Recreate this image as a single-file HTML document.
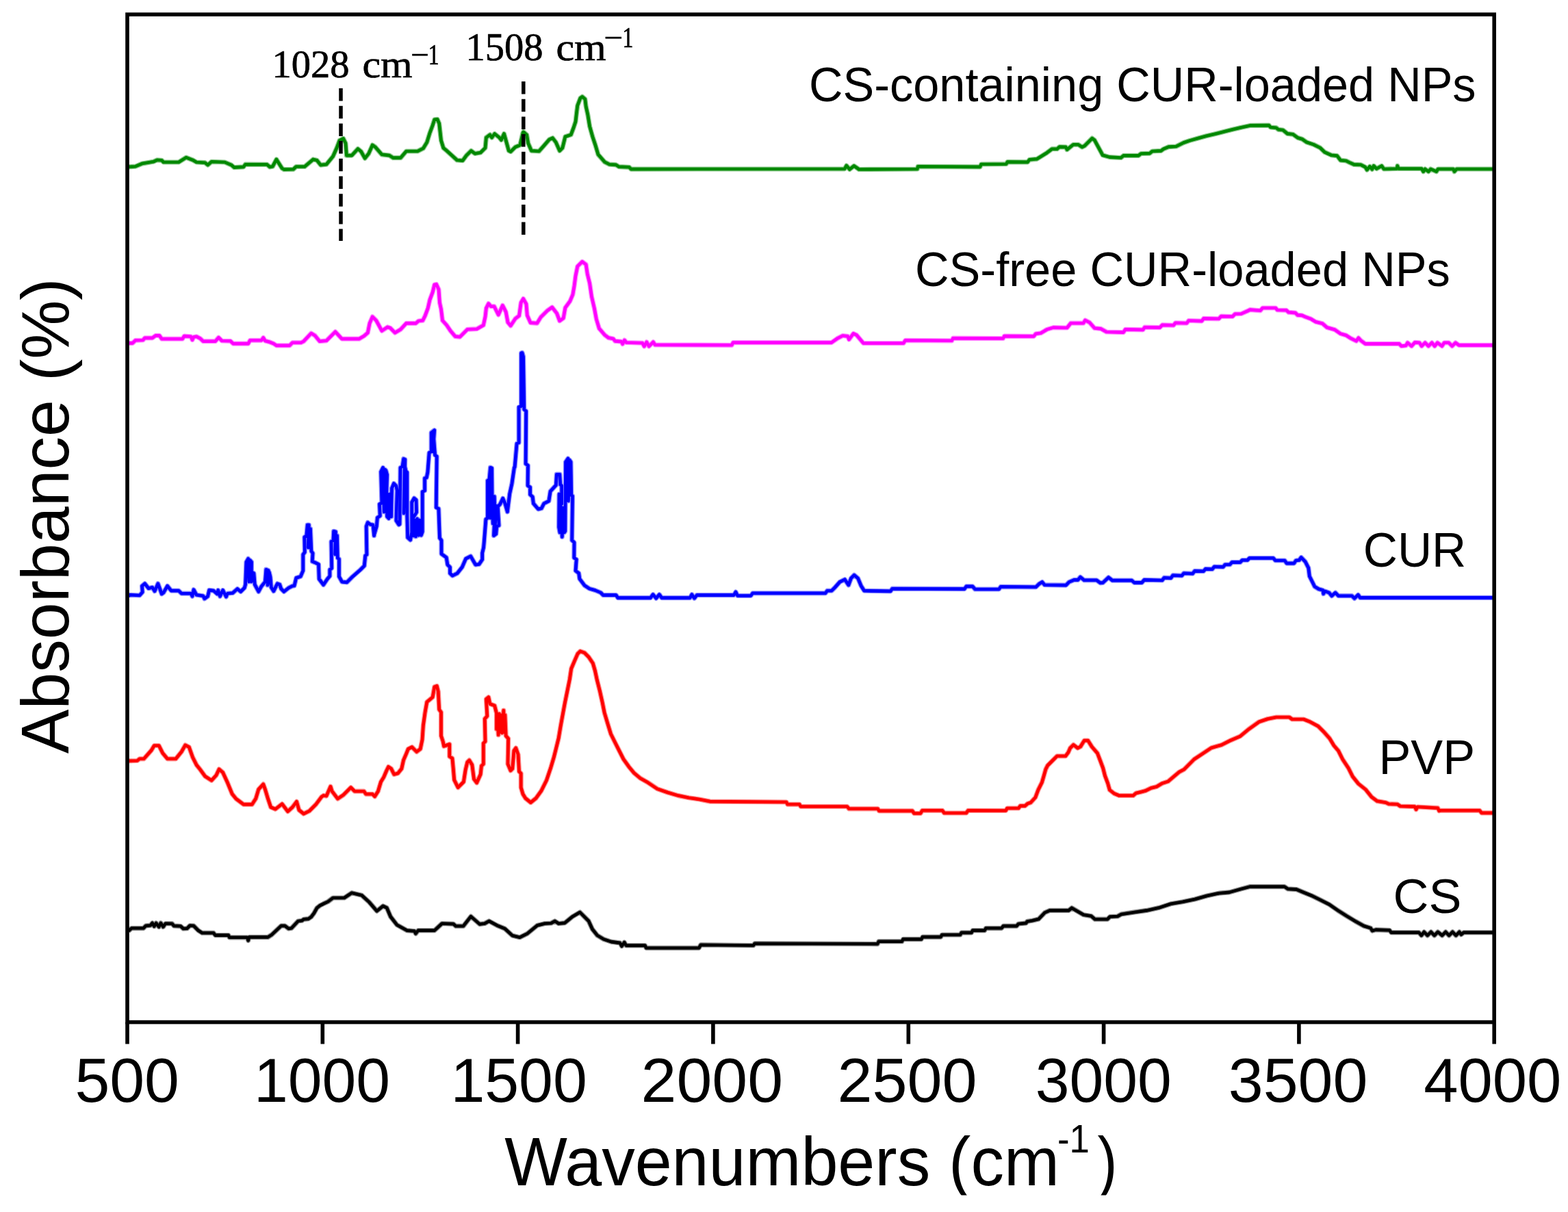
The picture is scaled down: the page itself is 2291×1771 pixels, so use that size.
<!DOCTYPE html>
<html><head><meta charset="utf-8"><title>FTIR spectra</title>
<style>html,body{margin:0;padding:0;background:#fff;}body{width:2291px;height:1771px;overflow:hidden;}svg{display:block;}</style>
</head><body>
<svg width="2291" height="1771" viewBox="0 0 2291 1771"><rect x="0" y="0" width="2291" height="1771" fill="#fff"/><path d="M188.2 243.9L197.9 243.2L207.5 239.1L224.0 236.3L229.5 233.8L236.3 234.3L239.0 237.0L261.0 237.0L272.0 230.1L281.6 233.8L287.1 237.0L299.5 237.7L303.6 241.1L309.1 236.3L328.4 237.0L338.0 241.1L342.0 244.6L355.8 243.9L358.6 240.2L390.2 240.4L394.3 243.9L398.4 243.2L403.9 232.9L412.1 245.9L414.9 247.6L428.6 247.3L432.7 243.5L445.1 243.5L457.5 232.9L463.0 234.3L468.5 241.1L476.9 240.2L486.5 228.5L492.0 216.2L496.1 205.2L501.6 202.4L505.0 209.3L506.4 227.1L514.0 227.1L522.9 217.5L527.7 221.6L533.2 231.3L538.7 224.4L544.2 212.0L548.3 214.8L557.9 225.8L568.9 227.1L574.4 230.6L585.4 230.6L593.6 221.0L610.1 221.0L618.4 216.8L623.8 207.9L628.0 194.2L632.1 183.2L634.8 174.9L639.0 174.3L641.7 180.4L643.1 192.8L644.5 205.2L647.9 216.2L652.7 220.3L667.8 234.0L676.0 234.7L681.5 227.1L688.4 220.3L693.9 224.4L702.1 223.0L709.0 216.2L710.4 201.0L715.9 196.9L718.6 201.0L722.7 195.5L729.6 201.0L732.4 204.5L736.5 195.5L739.2 205.2L743.4 220.3L746.1 221.6L753.0 214.8L759.8 212.0L764.0 194.2L764.8 192.8L769.6 196.9L771.7 209.3L776.5 220.3L787.5 221.0L794.3 213.4L802.6 203.8L807.4 201.7L812.2 207.9L817.7 220.3L821.8 216.2L825.9 199.7L834.2 196.9L838.3 185.9L841.0 177.7L842.4 165.3L843.8 154.3L847.9 143.4L850.7 141.3L854.8 144.7L856.2 155.7L858.9 168.1L861.6 184.6L865.8 199.7L869.9 212.0L874.0 225.8L883.6 236.8L890.5 240.2L900.1 240.9L904.2 243.6L919.3 244.3L922.1 247.1L1234.0 246.8L1236.8 242.0L1241.4 247.5L1247.8 242.4L1255.1 247.5L1340.3 247.0L1341.2 243.3L1431.9 243.9L1433.7 240.0L1470.2 239.7L1472.0 236.6L1501.4 236.9L1504.1 233.3L1515.1 232.3L1522.4 227.8L1529.7 223.2L1537.1 217.7L1544.4 217.7L1548.1 214.6L1557.2 214.9L1559.0 218.6L1568.2 211.3L1575.5 211.3L1581.0 214.9L1584.7 213.1L1595.7 202.1L1599.3 204.9L1611.2 226.8L1621.3 229.6L1637.8 230.5L1641.5 227.4L1663.4 227.4L1667.1 224.5L1679.9 224.1L1683.6 221.0L1696.4 220.4L1700.1 217.7L1707.4 214.6L1718.4 214.0L1729.4 208.5L1738.5 205.4L1751.4 201.8L1762.3 198.8L1775.2 195.7L1788.0 192.6L1800.8 189.3L1813.6 186.2L1826.5 183.4L1853.9 183.1L1856.4 186.0L1864.6 186.7L1867.9 189.3L1874.5 190.0L1881.1 195.4L1889.3 196.3L1895.9 201.2L1902.5 203.2L1909.1 207.8L1919.0 211.1L1928.9 216.0L1935.5 222.3L1945.4 226.8L1953.6 227.6L1958.6 234.2L1966.8 235.0L1971.8 237.5L1978.3 240.4L1988.2 240.8L1994.8 244.1L1997.3 248.2L2001.4 243.2L2004.7 247.4L2007.2 242.4L2011.3 246.5L2018.7 242.4L2022.0 247.0L2041.0 246.5L2041.8 242.4L2043.4 246.5L2077.2 246.5L2079.7 250.7L2082.2 247.0L2087.1 250.7L2090.4 247.0L2098.7 250.7L2101.1 247.0L2123.4 247.0L2125.0 250.7L2128.3 247.0L2182.0 247.0" fill="none" stroke="#008800" stroke-opacity="0.45" stroke-width="7.2" stroke-linejoin="round" stroke-linecap="butt"/><path d="M188.2 243.9L197.9 243.2L207.5 239.1L224.0 236.3L229.5 233.8L236.3 234.3L239.0 237.0L261.0 237.0L272.0 230.1L281.6 233.8L287.1 237.0L299.5 237.7L303.6 241.1L309.1 236.3L328.4 237.0L338.0 241.1L342.0 244.6L355.8 243.9L358.6 240.2L390.2 240.4L394.3 243.9L398.4 243.2L403.9 232.9L412.1 245.9L414.9 247.6L428.6 247.3L432.7 243.5L445.1 243.5L457.5 232.9L463.0 234.3L468.5 241.1L476.9 240.2L486.5 228.5L492.0 216.2L496.1 205.2L501.6 202.4L505.0 209.3L506.4 227.1L514.0 227.1L522.9 217.5L527.7 221.6L533.2 231.3L538.7 224.4L544.2 212.0L548.3 214.8L557.9 225.8L568.9 227.1L574.4 230.6L585.4 230.6L593.6 221.0L610.1 221.0L618.4 216.8L623.8 207.9L628.0 194.2L632.1 183.2L634.8 174.9L639.0 174.3L641.7 180.4L643.1 192.8L644.5 205.2L647.9 216.2L652.7 220.3L667.8 234.0L676.0 234.7L681.5 227.1L688.4 220.3L693.9 224.4L702.1 223.0L709.0 216.2L710.4 201.0L715.9 196.9L718.6 201.0L722.7 195.5L729.6 201.0L732.4 204.5L736.5 195.5L739.2 205.2L743.4 220.3L746.1 221.6L753.0 214.8L759.8 212.0L764.0 194.2L764.8 192.8L769.6 196.9L771.7 209.3L776.5 220.3L787.5 221.0L794.3 213.4L802.6 203.8L807.4 201.7L812.2 207.9L817.7 220.3L821.8 216.2L825.9 199.7L834.2 196.9L838.3 185.9L841.0 177.7L842.4 165.3L843.8 154.3L847.9 143.4L850.7 141.3L854.8 144.7L856.2 155.7L858.9 168.1L861.6 184.6L865.8 199.7L869.9 212.0L874.0 225.8L883.6 236.8L890.5 240.2L900.1 240.9L904.2 243.6L919.3 244.3L922.1 247.1L1234.0 246.8L1236.8 242.0L1241.4 247.5L1247.8 242.4L1255.1 247.5L1340.3 247.0L1341.2 243.3L1431.9 243.9L1433.7 240.0L1470.2 239.7L1472.0 236.6L1501.4 236.9L1504.1 233.3L1515.1 232.3L1522.4 227.8L1529.7 223.2L1537.1 217.7L1544.4 217.7L1548.1 214.6L1557.2 214.9L1559.0 218.6L1568.2 211.3L1575.5 211.3L1581.0 214.9L1584.7 213.1L1595.7 202.1L1599.3 204.9L1611.2 226.8L1621.3 229.6L1637.8 230.5L1641.5 227.4L1663.4 227.4L1667.1 224.5L1679.9 224.1L1683.6 221.0L1696.4 220.4L1700.1 217.7L1707.4 214.6L1718.4 214.0L1729.4 208.5L1738.5 205.4L1751.4 201.8L1762.3 198.8L1775.2 195.7L1788.0 192.6L1800.8 189.3L1813.6 186.2L1826.5 183.4L1853.9 183.1L1856.4 186.0L1864.6 186.7L1867.9 189.3L1874.5 190.0L1881.1 195.4L1889.3 196.3L1895.9 201.2L1902.5 203.2L1909.1 207.8L1919.0 211.1L1928.9 216.0L1935.5 222.3L1945.4 226.8L1953.6 227.6L1958.6 234.2L1966.8 235.0L1971.8 237.5L1978.3 240.4L1988.2 240.8L1994.8 244.1L1997.3 248.2L2001.4 243.2L2004.7 247.4L2007.2 242.4L2011.3 246.5L2018.7 242.4L2022.0 247.0L2041.0 246.5L2041.8 242.4L2043.4 246.5L2077.2 246.5L2079.7 250.7L2082.2 247.0L2087.1 250.7L2090.4 247.0L2098.7 250.7L2101.1 247.0L2123.4 247.0L2125.0 250.7L2128.3 247.0L2182.0 247.0" fill="none" stroke="#008800" stroke-width="4.6" stroke-linejoin="round" stroke-linecap="butt"/><path d="M187.6 501.4L193.7 501.4L197.9 497.3L208.8 497.0L211.6 493.9L222.6 493.9L227.4 490.4L232.9 490.4L236.3 495.2L266.5 495.2L269.3 491.1L278.9 491.8L281.0 496.6L283.0 492.5L287.1 491.8L292.6 494.6L296.8 498.7L314.6 498.7L319.4 493.2L324.2 498.0L336.6 498.3L340.7 502.1L362.7 502.1L365.4 497.3L381.9 497.3L384.7 493.5L387.4 498.0L392.9 499.4L399.8 502.1L403.9 504.9L423.1 504.9L427.3 500.7L439.6 500.7L443.7 498.7L454.7 487.0L460.2 490.4L467.1 498.7L476.9 497.8L489.9 484.8L499.5 495.1L524.9 495.1L531.8 491.0L537.3 486.2L540.1 472.4L544.2 462.8L549.7 468.3L557.9 483.4L566.2 477.9L570.3 479.3L577.1 486.2L585.4 481.3L593.6 472.4L607.4 472.4L611.5 469.0L617.7 468.3L621.1 461.4L625.2 450.4L628.0 438.1L632.1 427.1L634.8 416.1L637.6 415.4L641.0 423.0L642.4 442.2L644.5 451.8L646.5 468.3L652.7 475.2L658.2 483.4L665.1 491.6L671.9 492.3L682.9 481.3L696.6 480.7L706.3 475.2L709.0 462.8L710.4 450.4L713.8 443.6L717.3 447.7L722.1 447.7L728.2 460.0L734.4 446.3L739.2 455.9L742.0 471.0L746.1 475.9L753.0 465.5L758.5 461.4L761.2 442.2L764.6 436.5L768.9 444.2L770.3 460.7L775.1 471.6L784.7 472.3L790.2 463.4L799.8 453.8L806.7 449.0L813.6 457.9L817.7 468.9L823.2 464.8L825.9 449.7L832.8 440.1L836.9 430.4L839.0 418.1L841.0 403.0L843.8 389.2L850.7 382.4L856.2 386.5L858.2 400.2L861.6 414.0L864.4 433.2L868.5 451.0L871.3 466.2L875.4 479.9L883.6 489.5L889.1 493.6L896.0 495.0L898.7 498.4L907.7 499.1L909.7 502.6L912.5 497.1L915.2 500.5L938.6 501.2L941.3 506.0L944.8 499.8L948.2 506.0L954.4 499.8L957.1 503.9L1069.2 504.3L1071.1 500.6L1214.8 500.6L1224.0 494.2L1231.3 490.5L1238.6 491.4L1240.5 496.0L1246.9 487.4L1251.5 489.6L1261.5 501.5L1320.1 501.5L1322.9 497.3L1390.7 497.8L1392.5 494.2L1465.6 494.5L1467.5 491.1L1510.5 491.4L1513.3 487.8L1520.6 486.8L1529.7 481.4L1538.9 478.6L1559.0 479.0L1564.5 472.2L1582.9 472.2L1585.6 468.0L1592.0 471.3L1599.3 479.5L1608.5 480.4L1616.7 485.0L1641.5 485.6L1644.2 481.4L1669.9 481.9L1672.6 478.2L1694.6 478.6L1698.2 474.9L1714.7 475.3L1717.5 471.8L1734.0 472.2L1736.7 468.5L1755.9 469.1L1758.7 465.4L1780.7 465.8L1784.3 462.1L1800.8 462.5L1804.5 458.8L1813.6 458.5L1822.8 454.4L1826.5 452.6L1841.5 453.8L1844.8 450.0L1863.8 450.0L1866.3 453.0L1879.4 453.3L1882.7 456.3L1892.6 457.1L1895.9 460.4L1902.5 460.9L1907.5 463.2L1915.7 466.2L1922.3 470.3L1932.2 472.7L1938.8 478.5L1950.3 481.8L1958.6 487.6L1966.8 490.0L1973.4 494.2L1981.6 498.3L1984.9 493.8L1988.2 497.5L1994.8 502.4L2044.3 502.4L2047.6 505.7L2054.2 504.9L2056.6 500.8L2062.4 505.7L2067.3 500.4L2073.9 500.8L2077.2 505.7L2082.2 500.8L2087.1 505.7L2092.1 500.8L2096.2 505.7L2100.3 500.8L2106.9 505.7L2110.2 500.8L2116.8 500.8L2121.7 505.7L2126.7 500.8L2131.6 504.4L2182.0 504.4" fill="none" stroke="#ff00ff" stroke-opacity="0.45" stroke-width="7.2" stroke-linejoin="round" stroke-linecap="butt"/><path d="M187.6 501.4L193.7 501.4L197.9 497.3L208.8 497.0L211.6 493.9L222.6 493.9L227.4 490.4L232.9 490.4L236.3 495.2L266.5 495.2L269.3 491.1L278.9 491.8L281.0 496.6L283.0 492.5L287.1 491.8L292.6 494.6L296.8 498.7L314.6 498.7L319.4 493.2L324.2 498.0L336.6 498.3L340.7 502.1L362.7 502.1L365.4 497.3L381.9 497.3L384.7 493.5L387.4 498.0L392.9 499.4L399.8 502.1L403.9 504.9L423.1 504.9L427.3 500.7L439.6 500.7L443.7 498.7L454.7 487.0L460.2 490.4L467.1 498.7L476.9 497.8L489.9 484.8L499.5 495.1L524.9 495.1L531.8 491.0L537.3 486.2L540.1 472.4L544.2 462.8L549.7 468.3L557.9 483.4L566.2 477.9L570.3 479.3L577.1 486.2L585.4 481.3L593.6 472.4L607.4 472.4L611.5 469.0L617.7 468.3L621.1 461.4L625.2 450.4L628.0 438.1L632.1 427.1L634.8 416.1L637.6 415.4L641.0 423.0L642.4 442.2L644.5 451.8L646.5 468.3L652.7 475.2L658.2 483.4L665.1 491.6L671.9 492.3L682.9 481.3L696.6 480.7L706.3 475.2L709.0 462.8L710.4 450.4L713.8 443.6L717.3 447.7L722.1 447.7L728.2 460.0L734.4 446.3L739.2 455.9L742.0 471.0L746.1 475.9L753.0 465.5L758.5 461.4L761.2 442.2L764.6 436.5L768.9 444.2L770.3 460.7L775.1 471.6L784.7 472.3L790.2 463.4L799.8 453.8L806.7 449.0L813.6 457.9L817.7 468.9L823.2 464.8L825.9 449.7L832.8 440.1L836.9 430.4L839.0 418.1L841.0 403.0L843.8 389.2L850.7 382.4L856.2 386.5L858.2 400.2L861.6 414.0L864.4 433.2L868.5 451.0L871.3 466.2L875.4 479.9L883.6 489.5L889.1 493.6L896.0 495.0L898.7 498.4L907.7 499.1L909.7 502.6L912.5 497.1L915.2 500.5L938.6 501.2L941.3 506.0L944.8 499.8L948.2 506.0L954.4 499.8L957.1 503.9L1069.2 504.3L1071.1 500.6L1214.8 500.6L1224.0 494.2L1231.3 490.5L1238.6 491.4L1240.5 496.0L1246.9 487.4L1251.5 489.6L1261.5 501.5L1320.1 501.5L1322.9 497.3L1390.7 497.8L1392.5 494.2L1465.6 494.5L1467.5 491.1L1510.5 491.4L1513.3 487.8L1520.6 486.8L1529.7 481.4L1538.9 478.6L1559.0 479.0L1564.5 472.2L1582.9 472.2L1585.6 468.0L1592.0 471.3L1599.3 479.5L1608.5 480.4L1616.7 485.0L1641.5 485.6L1644.2 481.4L1669.9 481.9L1672.6 478.2L1694.6 478.6L1698.2 474.9L1714.7 475.3L1717.5 471.8L1734.0 472.2L1736.7 468.5L1755.9 469.1L1758.7 465.4L1780.7 465.8L1784.3 462.1L1800.8 462.5L1804.5 458.8L1813.6 458.5L1822.8 454.4L1826.5 452.6L1841.5 453.8L1844.8 450.0L1863.8 450.0L1866.3 453.0L1879.4 453.3L1882.7 456.3L1892.6 457.1L1895.9 460.4L1902.5 460.9L1907.5 463.2L1915.7 466.2L1922.3 470.3L1932.2 472.7L1938.8 478.5L1950.3 481.8L1958.6 487.6L1966.8 490.0L1973.4 494.2L1981.6 498.3L1984.9 493.8L1988.2 497.5L1994.8 502.4L2044.3 502.4L2047.6 505.7L2054.2 504.9L2056.6 500.8L2062.4 505.7L2067.3 500.4L2073.9 500.8L2077.2 505.7L2082.2 500.8L2087.1 505.7L2092.1 500.8L2096.2 505.7L2100.3 500.8L2106.9 505.7L2110.2 500.8L2116.8 500.8L2121.7 505.7L2126.7 500.8L2131.6 504.4L2182.0 504.4" fill="none" stroke="#ff00ff" stroke-width="4.6" stroke-linejoin="round" stroke-linecap="butt"/><path d="M187.6 871.3L189.6 869.3L204.0 870.0L208.2 865.2L207.5 856.2L211.6 852.8L217.1 859.7L222.6 858.3L226.0 863.8L230.8 852.8L236.3 867.9L239.0 865.9L244.6 856.2L250.1 863.1L261.0 863.1L265.2 867.2L278.9 867.2L281.0 871.3L283.0 861.7L287.1 869.3L296.8 870.7L298.8 874.8L303.6 871.3L305.7 862.4L311.9 863.1L317.4 867.9L318.7 862.4L321.5 871.3L325.6 862.4L330.4 872.0L332.5 867.2L340.0 866.5L346.9 860.4L351.7 864.5L357.2 859.0L358.6 854.2L359.9 821.2L362.7 816.4L363.8 850.0L365.2 818.5L367.5 821.2L367.3 850.0L368.4 836.3L370.9 837.7L372.3 854.2L377.8 864.5L381.9 856.9L387.4 850.1L388.8 832.2L392.2 833.6L391.0 855.0L393.3 836.0L395.0 843.2L396.3 858.3L399.8 863.8L405.3 852.8L408.7 854.2L410.8 860.4L414.9 864.5L421.8 859.0L427.3 856.2L430.0 855.9L432.8 844.5L439.2 842.4L442.8 833.9L442.8 810.4L445.3 806.9L444.9 784.8L447.8 782.7L449.2 767.1L451.3 767.1L450.2 800.0L452.0 800.0L453.5 772.7L454.9 805.4L457.0 808.3L456.3 820.4L459.9 821.8L465.5 824.6L466.2 846.0L472.6 854.5L478.3 846.0L481.9 841.7L481.9 832.4L484.7 830.3L484.0 791.2L486.9 789.8L487.6 776.3L490.4 777.0L489.5 810.0L491.0 810.0L492.5 782.7L493.3 815.4L495.4 816.8L495.4 842.4L499.7 850.2L506.8 850.9L515.3 842.4L526.7 832.4L532.3 826.8L533.8 811.8L535.9 810.4L535.2 769.2L537.3 763.5L540.9 766.3L545.1 767.1L546.6 782.7L546.7 781.3L550.2 769.3L551.4 756.4L555.3 753.8L554.5 736.6L557.9 734.9L556.6 689.4L559.6 683.4L561.2 748.0L562.3 686.0L563.9 687.6L565.6 693.7L564.8 720.3L565.6 755.0L568.0 757.5L569.0 722.0L570.5 722.0L571.6 755.0L572.5 713.4L575.5 706.5L578.9 710.0L580.2 716.9L578.9 760.7L582.8 766.7L584.0 766.0L584.5 735.0L585.0 683.4L588.0 681.6L589.7 670.5L591.8 671.3L590.0 750.0L591.2 680.0L593.1 688.5L594.8 690.2L594.8 753.8L595.7 785.6L599.6 789.0L601.7 777.9L601.7 734.0L605.1 728.0L608.1 730.6L608.6 748.6L603.5 757.0L604.5 783.0L606.5 760.0L607.5 784.0L609.5 758.0L611.6 782.1L613.0 760.0L615.4 782.1L617.2 777.0L617.2 718.6L620.6 716.9L620.6 698.8L623.2 698.0L624.9 690.0L627.1 661.6L630.2 659.8L630.2 632.2L634.7 628.7L632.5 660.0L633.0 631.0L635.6 665.1L638.2 666.9L637.3 741.6L640.9 743.3L642.4 786.1L645.0 789.7L645.0 809.3L652.2 814.6L653.9 825.2L657.5 828.8L657.5 837.7L661.0 841.2L668.1 837.7L675.2 828.8L680.6 816.4L687.7 812.8L694.8 825.2L700.0 824.5L704.7 817.4L704.7 808.0L706.6 800.0L707.4 791.0L709.9 758.7L712.4 757.0L712.4 702.3L714.9 700.6L716.5 683.2L718.6 684.0L719.0 723.8L714.8 745.0L716.2 703.0L716.6 757.0L719.2 729.0L720.2 765.0L722.3 725.5L723.5 768.0L724.8 739.0L722.5 760.0L721.5 782.7L724.8 780.2L725.7 769.5L729.0 767.8L727.3 740.4L730.5 737.0L734.7 728.2L738.0 736.0L741.4 747.9L744.7 721.4L748.0 706.4L751.4 683.2L752.1 682.5L755.1 648.1L758.1 646.9L758.1 594.8L761.6 593.6L761.6 516.0L763.0 515.5L764.6 521.3L765.8 598.3L768.7 600.7L768.1 677.7L771.4 680.1L771.1 709.6L774.6 712.0L774.6 722.7L778.2 726.2L779.4 735.7L786.5 744.0L791.2 742.8L794.8 735.7L801.9 732.1L804.1 718.0L812.4 708.9L813.3 693.2L817.8 693.2L818.7 708.1L820.7 709.8L820.7 736.3L817.0 722.0L816.6 770.3L818.0 778.0L819.5 740.0L821.3 784.4L823.0 742.0L824.5 778.0L825.8 776.0L826.5 675.0L829.9 670.0L830.5 732.0L832.0 672.0L834.0 675.0L834.8 723.8L836.5 724.7L835.7 789.4L839.0 792.7L838.8 815.1L842.2 817.4L841.0 834.0L845.7 837.6L846.9 845.9L854.0 855.4L861.1 860.1L869.4 862.5L877.7 866.0L881.3 869.6L900.1 869.6L902.8 873.6L950.4 873.6L954.1 868.7L958.7 874.2L963.3 868.7L966.9 873.6L1008.1 873.6L1010.9 868.7L1014.5 874.2L1018.2 869.6L1072.2 869.6L1075.0 865.0L1077.7 870.5L1097.0 870.5L1099.7 866.8L1205.9 866.8L1208.7 863.2L1215.1 863.2L1219.7 858.6L1227.0 850.4L1234.3 846.7L1239.8 854.9L1243.5 844.9L1248.0 840.3L1253.5 844.9L1258.1 855.9L1262.7 863.2L1301.1 863.9L1303.8 860.2L1409.1 860.6L1411.9 856.9L1421.0 856.9L1424.7 861.0L1459.5 861.0L1462.2 857.3L1513.5 857.8L1518.1 853.3L1522.7 850.5L1526.3 854.7L1557.5 855.1L1562.0 850.5L1569.4 847.4L1574.9 847.4L1578.5 843.2L1584.0 847.8L1602.3 847.8L1607.8 851.8L1611.5 851.4L1619.7 843.7L1625.2 848.1L1653.6 848.1L1657.3 851.4L1668.3 851.4L1671.9 847.4L1698.0 848.0L1701.0 844.2L1710.8 844.7L1713.8 840.7L1726.7 841.2L1729.7 837.7L1742.5 838.2L1745.6 834.4L1758.4 834.7L1761.4 831.4L1771.2 831.7L1774.3 828.1L1787.1 828.4L1790.1 825.0L1796.9 825.0L1800.0 821.6L1812.0 821.6L1815.1 818.5L1822.6 818.5L1825.6 815.5L1860.4 815.5L1863.4 819.0L1877.0 819.0L1880.0 823.1L1890.6 823.1L1893.6 819.0L1898.2 818.5L1901.2 814.5L1907.2 820.8L1911.8 829.9L1913.3 842.0L1917.8 851.0L1920.8 857.1L1926.9 860.8L1932.9 862.4L1933.7 867.6L1935.9 863.9L1942.0 866.1L1945.8 870.7L1951.1 866.1L1955.6 870.7L1975.2 870.7L1979.0 874.4L1984.3 869.2L1987.3 873.4L2182.0 873.4" fill="none" stroke="#0000ff" stroke-opacity="0.45" stroke-width="7.2" stroke-linejoin="round" stroke-linecap="butt"/><path d="M187.6 871.3L189.6 869.3L204.0 870.0L208.2 865.2L207.5 856.2L211.6 852.8L217.1 859.7L222.6 858.3L226.0 863.8L230.8 852.8L236.3 867.9L239.0 865.9L244.6 856.2L250.1 863.1L261.0 863.1L265.2 867.2L278.9 867.2L281.0 871.3L283.0 861.7L287.1 869.3L296.8 870.7L298.8 874.8L303.6 871.3L305.7 862.4L311.9 863.1L317.4 867.9L318.7 862.4L321.5 871.3L325.6 862.4L330.4 872.0L332.5 867.2L340.0 866.5L346.9 860.4L351.7 864.5L357.2 859.0L358.6 854.2L359.9 821.2L362.7 816.4L363.8 850.0L365.2 818.5L367.5 821.2L367.3 850.0L368.4 836.3L370.9 837.7L372.3 854.2L377.8 864.5L381.9 856.9L387.4 850.1L388.8 832.2L392.2 833.6L391.0 855.0L393.3 836.0L395.0 843.2L396.3 858.3L399.8 863.8L405.3 852.8L408.7 854.2L410.8 860.4L414.9 864.5L421.8 859.0L427.3 856.2L430.0 855.9L432.8 844.5L439.2 842.4L442.8 833.9L442.8 810.4L445.3 806.9L444.9 784.8L447.8 782.7L449.2 767.1L451.3 767.1L450.2 800.0L452.0 800.0L453.5 772.7L454.9 805.4L457.0 808.3L456.3 820.4L459.9 821.8L465.5 824.6L466.2 846.0L472.6 854.5L478.3 846.0L481.9 841.7L481.9 832.4L484.7 830.3L484.0 791.2L486.9 789.8L487.6 776.3L490.4 777.0L489.5 810.0L491.0 810.0L492.5 782.7L493.3 815.4L495.4 816.8L495.4 842.4L499.7 850.2L506.8 850.9L515.3 842.4L526.7 832.4L532.3 826.8L533.8 811.8L535.9 810.4L535.2 769.2L537.3 763.5L540.9 766.3L545.1 767.1L546.6 782.7L546.7 781.3L550.2 769.3L551.4 756.4L555.3 753.8L554.5 736.6L557.9 734.9L556.6 689.4L559.6 683.4L561.2 748.0L562.3 686.0L563.9 687.6L565.6 693.7L564.8 720.3L565.6 755.0L568.0 757.5L569.0 722.0L570.5 722.0L571.6 755.0L572.5 713.4L575.5 706.5L578.9 710.0L580.2 716.9L578.9 760.7L582.8 766.7L584.0 766.0L584.5 735.0L585.0 683.4L588.0 681.6L589.7 670.5L591.8 671.3L590.0 750.0L591.2 680.0L593.1 688.5L594.8 690.2L594.8 753.8L595.7 785.6L599.6 789.0L601.7 777.9L601.7 734.0L605.1 728.0L608.1 730.6L608.6 748.6L603.5 757.0L604.5 783.0L606.5 760.0L607.5 784.0L609.5 758.0L611.6 782.1L613.0 760.0L615.4 782.1L617.2 777.0L617.2 718.6L620.6 716.9L620.6 698.8L623.2 698.0L624.9 690.0L627.1 661.6L630.2 659.8L630.2 632.2L634.7 628.7L632.5 660.0L633.0 631.0L635.6 665.1L638.2 666.9L637.3 741.6L640.9 743.3L642.4 786.1L645.0 789.7L645.0 809.3L652.2 814.6L653.9 825.2L657.5 828.8L657.5 837.7L661.0 841.2L668.1 837.7L675.2 828.8L680.6 816.4L687.7 812.8L694.8 825.2L700.0 824.5L704.7 817.4L704.7 808.0L706.6 800.0L707.4 791.0L709.9 758.7L712.4 757.0L712.4 702.3L714.9 700.6L716.5 683.2L718.6 684.0L719.0 723.8L714.8 745.0L716.2 703.0L716.6 757.0L719.2 729.0L720.2 765.0L722.3 725.5L723.5 768.0L724.8 739.0L722.5 760.0L721.5 782.7L724.8 780.2L725.7 769.5L729.0 767.8L727.3 740.4L730.5 737.0L734.7 728.2L738.0 736.0L741.4 747.9L744.7 721.4L748.0 706.4L751.4 683.2L752.1 682.5L755.1 648.1L758.1 646.9L758.1 594.8L761.6 593.6L761.6 516.0L763.0 515.5L764.6 521.3L765.8 598.3L768.7 600.7L768.1 677.7L771.4 680.1L771.1 709.6L774.6 712.0L774.6 722.7L778.2 726.2L779.4 735.7L786.5 744.0L791.2 742.8L794.8 735.7L801.9 732.1L804.1 718.0L812.4 708.9L813.3 693.2L817.8 693.2L818.7 708.1L820.7 709.8L820.7 736.3L817.0 722.0L816.6 770.3L818.0 778.0L819.5 740.0L821.3 784.4L823.0 742.0L824.5 778.0L825.8 776.0L826.5 675.0L829.9 670.0L830.5 732.0L832.0 672.0L834.0 675.0L834.8 723.8L836.5 724.7L835.7 789.4L839.0 792.7L838.8 815.1L842.2 817.4L841.0 834.0L845.7 837.6L846.9 845.9L854.0 855.4L861.1 860.1L869.4 862.5L877.7 866.0L881.3 869.6L900.1 869.6L902.8 873.6L950.4 873.6L954.1 868.7L958.7 874.2L963.3 868.7L966.9 873.6L1008.1 873.6L1010.9 868.7L1014.5 874.2L1018.2 869.6L1072.2 869.6L1075.0 865.0L1077.7 870.5L1097.0 870.5L1099.7 866.8L1205.9 866.8L1208.7 863.2L1215.1 863.2L1219.7 858.6L1227.0 850.4L1234.3 846.7L1239.8 854.9L1243.5 844.9L1248.0 840.3L1253.5 844.9L1258.1 855.9L1262.7 863.2L1301.1 863.9L1303.8 860.2L1409.1 860.6L1411.9 856.9L1421.0 856.9L1424.7 861.0L1459.5 861.0L1462.2 857.3L1513.5 857.8L1518.1 853.3L1522.7 850.5L1526.3 854.7L1557.5 855.1L1562.0 850.5L1569.4 847.4L1574.9 847.4L1578.5 843.2L1584.0 847.8L1602.3 847.8L1607.8 851.8L1611.5 851.4L1619.7 843.7L1625.2 848.1L1653.6 848.1L1657.3 851.4L1668.3 851.4L1671.9 847.4L1698.0 848.0L1701.0 844.2L1710.8 844.7L1713.8 840.7L1726.7 841.2L1729.7 837.7L1742.5 838.2L1745.6 834.4L1758.4 834.7L1761.4 831.4L1771.2 831.7L1774.3 828.1L1787.1 828.4L1790.1 825.0L1796.9 825.0L1800.0 821.6L1812.0 821.6L1815.1 818.5L1822.6 818.5L1825.6 815.5L1860.4 815.5L1863.4 819.0L1877.0 819.0L1880.0 823.1L1890.6 823.1L1893.6 819.0L1898.2 818.5L1901.2 814.5L1907.2 820.8L1911.8 829.9L1913.3 842.0L1917.8 851.0L1920.8 857.1L1926.9 860.8L1932.9 862.4L1933.7 867.6L1935.9 863.9L1942.0 866.1L1945.8 870.7L1951.1 866.1L1955.6 870.7L1975.2 870.7L1979.0 874.4L1984.3 869.2L1987.3 873.4L2182.0 873.4" fill="none" stroke="#0000ff" stroke-width="4.6" stroke-linejoin="round" stroke-linecap="butt"/><path d="M187.6 1111.9L200.6 1111.5L204.0 1108.8L210.2 1108.8L221.2 1096.4L225.3 1089.5L232.2 1089.5L237.7 1100.5L244.6 1108.8L256.9 1108.8L265.2 1098.5L270.7 1088.8L276.2 1091.6L281.6 1106.7L287.1 1117.7L292.6 1124.6L299.5 1134.2L309.1 1140.4L316.0 1132.8L320.1 1123.9L325.6 1128.7L332.5 1143.8L339.3 1160.3L344.8 1167.1L355.8 1175.4L368.2 1175.4L373.7 1167.1L377.8 1153.4L384.7 1145.9L387.4 1153.4L391.5 1167.1L395.7 1179.5L402.5 1182.3L412.1 1174.7L420.4 1185.7L427.3 1179.5L433.4 1171.3L436.9 1183.6L443.7 1189.1L452.0 1185.0L461.6 1175.4L469.8 1164.4L472.7 1162.4L476.9 1163.1L483.0 1149.3L485.1 1156.2L493.4 1167.2L501.6 1161.7L512.6 1150.7L518.1 1156.2L531.8 1156.2L534.6 1160.3L544.2 1160.3L547.6 1163.8L552.4 1156.2L556.5 1142.5L560.7 1135.6L564.8 1126.0L567.5 1120.5L571.6 1123.2L575.8 1131.5L581.3 1130.1L586.8 1123.2L589.5 1110.9L593.6 1101.3L596.4 1094.4L601.9 1091.6L608.7 1098.5L614.2 1094.4L617.0 1080.7L618.4 1060.1L621.1 1040.8L623.8 1025.7L632.1 1018.8L634.8 1003.7L638.3 1002.4L640.3 1010.6L641.7 1036.7L644.5 1040.8L644.5 1075.2L647.2 1083.4L648.6 1090.3L656.8 1087.5L656.8 1105.4L660.9 1108.1L662.3 1123.2L663.7 1139.7L669.2 1150.7L677.4 1142.5L680.2 1124.6L682.9 1113.6L685.7 1110.9L689.8 1117.7L692.5 1138.4L696.6 1143.8L702.1 1131.5L703.5 1119.1L706.3 1116.4L706.3 1086.2L709.0 1083.4L708.3 1050.4L711.8 1046.3L710.4 1021.6L713.8 1018.8L715.9 1028.5L722.7 1031.2L725.5 1042.2L725.5 1065.5L726.8 1046.0L728.2 1073.8L729.4 1043.0L731.0 1069.7L732.4 1044.9L733.6 1071.0L735.8 1038.1L736.6 1070.0L737.9 1044.9L739.2 1075.2L742.7 1079.3L742.0 1116.4L746.1 1126.0L748.8 1123.2L750.9 1097.1L753.7 1093.0L757.1 1102.6L758.5 1127.4L761.2 1130.1L761.2 1150.7L764.0 1160.3L767.7 1166.4L775.4 1172.6L783.1 1166.4L790.8 1155.7L798.5 1140.2L804.7 1121.8L809.3 1106.4L812.4 1094.0L816.2 1078.6L819.3 1060.1L822.4 1043.2L825.5 1026.3L829.3 1007.8L832.4 992.4L834.7 977.0L839.3 966.2L844.0 955.4L847.8 951.6L854.0 953.9L860.1 960.0L866.3 969.3L869.4 980.0L872.4 993.9L876.3 1009.3L880.1 1026.3L883.2 1041.7L887.8 1057.1L892.5 1072.5L898.6 1084.8L904.8 1097.1L911.0 1109.4L918.7 1120.2L926.4 1129.5L935.6 1137.2L946.4 1143.3L960.2 1152.6L975.6 1158.0L991.1 1162.6L1006.5 1165.7L1021.9 1168.0L1037.3 1171.1L1148.9 1172.0L1150.7 1175.3L1168.1 1175.3L1170.0 1178.5L1237.7 1178.5L1240.5 1181.8L1282.6 1181.8L1284.4 1184.9L1333.0 1184.9L1335.7 1188.5L1344.9 1188.5L1347.6 1184.3L1376.9 1184.3L1379.7 1188.0L1411.7 1188.0L1414.5 1184.3L1469.5 1184.5L1471.6 1181.0L1488.1 1181.0L1490.8 1177.6L1497.7 1177.6L1501.8 1174.1L1505.9 1172.8L1512.8 1165.2L1516.9 1154.2L1522.4 1143.2L1525.2 1133.6L1527.9 1124.0L1530.7 1118.5L1536.2 1113.0L1544.4 1104.8L1556.8 1104.8L1560.9 1099.3L1563.6 1093.1L1568.4 1088.3L1574.6 1093.1L1578.7 1091.0L1584.2 1082.1L1589.7 1082.1L1595.2 1091.0L1603.5 1100.7L1607.6 1111.6L1611.7 1122.6L1614.5 1133.6L1618.6 1144.6L1621.3 1154.2L1628.2 1159.7L1635.1 1162.5L1655.7 1162.5L1659.8 1159.0L1668.0 1157.0L1673.5 1155.6L1681.8 1151.5L1690.0 1149.4L1698.2 1144.6L1706.5 1141.9L1714.7 1135.0L1723.0 1128.1L1730.0 1124.3L1744.7 1109.5L1757.4 1101.1L1770.0 1092.7L1784.8 1088.5L1797.4 1082.1L1812.1 1075.8L1824.8 1065.3L1839.5 1054.8L1852.2 1050.5L1864.8 1048.0L1883.7 1048.0L1888.0 1051.0L1904.8 1051.0L1913.2 1054.3L1925.9 1061.1L1934.3 1069.5L1942.7 1079.0L1949.0 1089.5L1955.4 1096.9L1961.7 1109.5L1970.1 1122.2L1976.4 1134.8L1984.8 1145.3L1995.4 1153.7L2003.8 1164.3L2012.2 1170.6L2024.9 1172.7L2029.1 1174.8L2041.7 1175.2L2045.9 1178.0L2067.0 1178.6L2069.1 1182.8L2071.2 1179.0L2100.7 1180.7L2102.8 1184.9L2104.9 1184.3L2161.8 1184.3L2164.9 1187.9L2182.0 1187.9" fill="none" stroke="#ff0000" stroke-opacity="0.45" stroke-width="7.2" stroke-linejoin="round" stroke-linecap="butt"/><path d="M187.6 1111.9L200.6 1111.5L204.0 1108.8L210.2 1108.8L221.2 1096.4L225.3 1089.5L232.2 1089.5L237.7 1100.5L244.6 1108.8L256.9 1108.8L265.2 1098.5L270.7 1088.8L276.2 1091.6L281.6 1106.7L287.1 1117.7L292.6 1124.6L299.5 1134.2L309.1 1140.4L316.0 1132.8L320.1 1123.9L325.6 1128.7L332.5 1143.8L339.3 1160.3L344.8 1167.1L355.8 1175.4L368.2 1175.4L373.7 1167.1L377.8 1153.4L384.7 1145.9L387.4 1153.4L391.5 1167.1L395.7 1179.5L402.5 1182.3L412.1 1174.7L420.4 1185.7L427.3 1179.5L433.4 1171.3L436.9 1183.6L443.7 1189.1L452.0 1185.0L461.6 1175.4L469.8 1164.4L472.7 1162.4L476.9 1163.1L483.0 1149.3L485.1 1156.2L493.4 1167.2L501.6 1161.7L512.6 1150.7L518.1 1156.2L531.8 1156.2L534.6 1160.3L544.2 1160.3L547.6 1163.8L552.4 1156.2L556.5 1142.5L560.7 1135.6L564.8 1126.0L567.5 1120.5L571.6 1123.2L575.8 1131.5L581.3 1130.1L586.8 1123.2L589.5 1110.9L593.6 1101.3L596.4 1094.4L601.9 1091.6L608.7 1098.5L614.2 1094.4L617.0 1080.7L618.4 1060.1L621.1 1040.8L623.8 1025.7L632.1 1018.8L634.8 1003.7L638.3 1002.4L640.3 1010.6L641.7 1036.7L644.5 1040.8L644.5 1075.2L647.2 1083.4L648.6 1090.3L656.8 1087.5L656.8 1105.4L660.9 1108.1L662.3 1123.2L663.7 1139.7L669.2 1150.7L677.4 1142.5L680.2 1124.6L682.9 1113.6L685.7 1110.9L689.8 1117.7L692.5 1138.4L696.6 1143.8L702.1 1131.5L703.5 1119.1L706.3 1116.4L706.3 1086.2L709.0 1083.4L708.3 1050.4L711.8 1046.3L710.4 1021.6L713.8 1018.8L715.9 1028.5L722.7 1031.2L725.5 1042.2L725.5 1065.5L726.8 1046.0L728.2 1073.8L729.4 1043.0L731.0 1069.7L732.4 1044.9L733.6 1071.0L735.8 1038.1L736.6 1070.0L737.9 1044.9L739.2 1075.2L742.7 1079.3L742.0 1116.4L746.1 1126.0L748.8 1123.2L750.9 1097.1L753.7 1093.0L757.1 1102.6L758.5 1127.4L761.2 1130.1L761.2 1150.7L764.0 1160.3L767.7 1166.4L775.4 1172.6L783.1 1166.4L790.8 1155.7L798.5 1140.2L804.7 1121.8L809.3 1106.4L812.4 1094.0L816.2 1078.6L819.3 1060.1L822.4 1043.2L825.5 1026.3L829.3 1007.8L832.4 992.4L834.7 977.0L839.3 966.2L844.0 955.4L847.8 951.6L854.0 953.9L860.1 960.0L866.3 969.3L869.4 980.0L872.4 993.9L876.3 1009.3L880.1 1026.3L883.2 1041.7L887.8 1057.1L892.5 1072.5L898.6 1084.8L904.8 1097.1L911.0 1109.4L918.7 1120.2L926.4 1129.5L935.6 1137.2L946.4 1143.3L960.2 1152.6L975.6 1158.0L991.1 1162.6L1006.5 1165.7L1021.9 1168.0L1037.3 1171.1L1148.9 1172.0L1150.7 1175.3L1168.1 1175.3L1170.0 1178.5L1237.7 1178.5L1240.5 1181.8L1282.6 1181.8L1284.4 1184.9L1333.0 1184.9L1335.7 1188.5L1344.9 1188.5L1347.6 1184.3L1376.9 1184.3L1379.7 1188.0L1411.7 1188.0L1414.5 1184.3L1469.5 1184.5L1471.6 1181.0L1488.1 1181.0L1490.8 1177.6L1497.7 1177.6L1501.8 1174.1L1505.9 1172.8L1512.8 1165.2L1516.9 1154.2L1522.4 1143.2L1525.2 1133.6L1527.9 1124.0L1530.7 1118.5L1536.2 1113.0L1544.4 1104.8L1556.8 1104.8L1560.9 1099.3L1563.6 1093.1L1568.4 1088.3L1574.6 1093.1L1578.7 1091.0L1584.2 1082.1L1589.7 1082.1L1595.2 1091.0L1603.5 1100.7L1607.6 1111.6L1611.7 1122.6L1614.5 1133.6L1618.6 1144.6L1621.3 1154.2L1628.2 1159.7L1635.1 1162.5L1655.7 1162.5L1659.8 1159.0L1668.0 1157.0L1673.5 1155.6L1681.8 1151.5L1690.0 1149.4L1698.2 1144.6L1706.5 1141.9L1714.7 1135.0L1723.0 1128.1L1730.0 1124.3L1744.7 1109.5L1757.4 1101.1L1770.0 1092.7L1784.8 1088.5L1797.4 1082.1L1812.1 1075.8L1824.8 1065.3L1839.5 1054.8L1852.2 1050.5L1864.8 1048.0L1883.7 1048.0L1888.0 1051.0L1904.8 1051.0L1913.2 1054.3L1925.9 1061.1L1934.3 1069.5L1942.7 1079.0L1949.0 1089.5L1955.4 1096.9L1961.7 1109.5L1970.1 1122.2L1976.4 1134.8L1984.8 1145.3L1995.4 1153.7L2003.8 1164.3L2012.2 1170.6L2024.9 1172.7L2029.1 1174.8L2041.7 1175.2L2045.9 1178.0L2067.0 1178.6L2069.1 1182.8L2071.2 1179.0L2100.7 1180.7L2102.8 1184.9L2104.9 1184.3L2161.8 1184.3L2164.9 1187.9L2182.0 1187.9" fill="none" stroke="#ff0000" stroke-width="4.6" stroke-linejoin="round" stroke-linecap="butt"/><path d="M187.6 1360.4L192.4 1356.3L209.5 1356.3L213.0 1352.9L219.8 1352.2L222.6 1348.8L225.3 1353.6L228.1 1348.8L232.2 1354.3L234.9 1348.8L238.4 1354.3L241.8 1349.5L251.4 1349.7L254.2 1352.9L263.8 1353.3L267.9 1357.0L273.4 1356.6L277.5 1352.5L283.0 1352.9L289.9 1359.8L295.4 1363.2L311.9 1363.2L314.6 1366.6L333.8 1366.6L335.2 1369.8L361.3 1369.8L362.7 1374.2L364.1 1369.4L391.5 1369.4L397.0 1365.9L410.8 1352.9L416.3 1352.9L421.8 1357.0L425.9 1356.3L435.5 1346.0L441.0 1345.3L443.7 1343.3L450.6 1342.6L454.7 1339.8L458.8 1334.3L463.0 1326.8L467.1 1323.4L472.6 1320.6L479.2 1317.5L486.5 1312.0L503.0 1312.0L514.0 1304.7L528.6 1308.3L539.6 1318.4L550.6 1331.2L559.7 1323.9L565.2 1326.6L570.7 1339.5L579.9 1351.4L594.5 1359.6L605.5 1360.5L607.4 1364.2L611.0 1359.6L634.8 1359.6L645.8 1349.5L662.3 1350.1L666.0 1353.2L677.0 1353.2L688.0 1339.1L700.8 1350.4L708.1 1349.5L714.5 1345.9L726.4 1352.3L737.4 1356.8L748.4 1366.9L759.4 1369.7L770.4 1364.2L785.0 1352.3L796.0 1349.5L805.2 1349.0L810.7 1345.9L816.2 1349.5L825.3 1348.6L836.3 1339.5L847.3 1333.0L860.1 1345.9L865.5 1357.8L872.8 1366.9L882.0 1372.4L893.0 1376.1L905.8 1377.9L908.5 1382.5L912.2 1377.0L914.9 1381.6L942.4 1381.6L944.2 1385.2L1021.2 1385.2L1023.9 1380.7L1100.8 1381.5L1102.7 1378.7L1282.1 1379.3L1283.9 1375.7L1317.8 1375.7L1319.6 1372.4L1346.2 1372.4L1348.0 1369.1L1374.5 1369.1L1376.4 1366.0L1402.9 1366.0L1404.8 1362.9L1419.4 1362.9L1421.2 1359.6L1438.6 1359.6L1440.5 1356.3L1463.4 1356.3L1466.1 1353.1L1485.3 1353.1L1488.1 1350.0L1499.1 1348.9L1500.9 1346.4L1508.2 1345.3L1517.4 1343.1L1526.6 1333.5L1533.9 1330.4L1561.4 1330.4L1565.9 1326.7L1572.3 1330.4L1583.3 1336.8L1594.3 1338.6L1599.8 1343.2L1618.1 1343.2L1621.8 1339.5L1632.8 1339.0L1638.3 1335.9L1657.6 1332.9L1675.3 1330.4L1692.9 1326.6L1710.5 1320.8L1728.1 1317.8L1745.8 1314.0L1763.4 1309.0L1781.0 1305.2L1796.1 1303.9L1813.8 1298.9L1826.4 1295.6L1876.7 1295.6L1881.7 1298.9L1894.3 1299.6L1904.4 1303.9L1917.0 1309.0L1929.6 1315.3L1942.2 1321.6L1954.8 1330.4L1967.4 1338.4L1980.0 1346.0L1992.6 1353.0L2002.6 1356.1L2005.1 1360.1L2010.2 1358.6L2030.3 1359.3L2032.8 1362.6L2073.1 1362.6L2076.9 1366.9L2080.7 1361.8L2085.7 1366.9L2090.8 1361.8L2095.8 1366.9L2100.8 1361.8L2107.1 1366.9L2112.2 1361.8L2117.2 1366.9L2122.3 1361.8L2127.3 1366.9L2132.3 1361.8L2134.8 1365.6L2138.6 1362.6L2182.0 1362.6" fill="none" stroke="#000000" stroke-opacity="0.45" stroke-width="7.2" stroke-linejoin="round" stroke-linecap="butt"/><path d="M187.6 1360.4L192.4 1356.3L209.5 1356.3L213.0 1352.9L219.8 1352.2L222.6 1348.8L225.3 1353.6L228.1 1348.8L232.2 1354.3L234.9 1348.8L238.4 1354.3L241.8 1349.5L251.4 1349.7L254.2 1352.9L263.8 1353.3L267.9 1357.0L273.4 1356.6L277.5 1352.5L283.0 1352.9L289.9 1359.8L295.4 1363.2L311.9 1363.2L314.6 1366.6L333.8 1366.6L335.2 1369.8L361.3 1369.8L362.7 1374.2L364.1 1369.4L391.5 1369.4L397.0 1365.9L410.8 1352.9L416.3 1352.9L421.8 1357.0L425.9 1356.3L435.5 1346.0L441.0 1345.3L443.7 1343.3L450.6 1342.6L454.7 1339.8L458.8 1334.3L463.0 1326.8L467.1 1323.4L472.6 1320.6L479.2 1317.5L486.5 1312.0L503.0 1312.0L514.0 1304.7L528.6 1308.3L539.6 1318.4L550.6 1331.2L559.7 1323.9L565.2 1326.6L570.7 1339.5L579.9 1351.4L594.5 1359.6L605.5 1360.5L607.4 1364.2L611.0 1359.6L634.8 1359.6L645.8 1349.5L662.3 1350.1L666.0 1353.2L677.0 1353.2L688.0 1339.1L700.8 1350.4L708.1 1349.5L714.5 1345.9L726.4 1352.3L737.4 1356.8L748.4 1366.9L759.4 1369.7L770.4 1364.2L785.0 1352.3L796.0 1349.5L805.2 1349.0L810.7 1345.9L816.2 1349.5L825.3 1348.6L836.3 1339.5L847.3 1333.0L860.1 1345.9L865.5 1357.8L872.8 1366.9L882.0 1372.4L893.0 1376.1L905.8 1377.9L908.5 1382.5L912.2 1377.0L914.9 1381.6L942.4 1381.6L944.2 1385.2L1021.2 1385.2L1023.9 1380.7L1100.8 1381.5L1102.7 1378.7L1282.1 1379.3L1283.9 1375.7L1317.8 1375.7L1319.6 1372.4L1346.2 1372.4L1348.0 1369.1L1374.5 1369.1L1376.4 1366.0L1402.9 1366.0L1404.8 1362.9L1419.4 1362.9L1421.2 1359.6L1438.6 1359.6L1440.5 1356.3L1463.4 1356.3L1466.1 1353.1L1485.3 1353.1L1488.1 1350.0L1499.1 1348.9L1500.9 1346.4L1508.2 1345.3L1517.4 1343.1L1526.6 1333.5L1533.9 1330.4L1561.4 1330.4L1565.9 1326.7L1572.3 1330.4L1583.3 1336.8L1594.3 1338.6L1599.8 1343.2L1618.1 1343.2L1621.8 1339.5L1632.8 1339.0L1638.3 1335.9L1657.6 1332.9L1675.3 1330.4L1692.9 1326.6L1710.5 1320.8L1728.1 1317.8L1745.8 1314.0L1763.4 1309.0L1781.0 1305.2L1796.1 1303.9L1813.8 1298.9L1826.4 1295.6L1876.7 1295.6L1881.7 1298.9L1894.3 1299.6L1904.4 1303.9L1917.0 1309.0L1929.6 1315.3L1942.2 1321.6L1954.8 1330.4L1967.4 1338.4L1980.0 1346.0L1992.6 1353.0L2002.6 1356.1L2005.1 1360.1L2010.2 1358.6L2030.3 1359.3L2032.8 1362.6L2073.1 1362.6L2076.9 1366.9L2080.7 1361.8L2085.7 1366.9L2090.8 1361.8L2095.8 1366.9L2100.8 1361.8L2107.1 1366.9L2112.2 1361.8L2117.2 1366.9L2122.3 1361.8L2127.3 1366.9L2132.3 1361.8L2134.8 1365.6L2138.6 1362.6L2182.0 1362.6" fill="none" stroke="#000000" stroke-width="4.6" stroke-linejoin="round" stroke-linecap="butt"/><line x1="498" y1="129" x2="498" y2="352" stroke="#000" stroke-width="5.5" stroke-dasharray="18.5 7.2"/><line x1="764.8" y1="119" x2="764.8" y2="343" stroke="#000" stroke-width="5.5" stroke-dasharray="18.5 7.2"/><rect x="186.0" y="21.1" width="1997.2" height="1472.5" fill="none" stroke="#000" stroke-width="5.6"/><line x1="186.0" y1="1493.6" x2="186.0" y2="1525.5" stroke="#000" stroke-width="5.6"/><line x1="471.3" y1="1493.6" x2="471.3" y2="1525.5" stroke="#000" stroke-width="5.6"/><line x1="756.6" y1="1493.6" x2="756.6" y2="1525.5" stroke="#000" stroke-width="5.6"/><line x1="1041.9" y1="1493.6" x2="1041.9" y2="1525.5" stroke="#000" stroke-width="5.6"/><line x1="1327.3" y1="1493.6" x2="1327.3" y2="1525.5" stroke="#000" stroke-width="5.6"/><line x1="1612.6" y1="1493.6" x2="1612.6" y2="1525.5" stroke="#000" stroke-width="5.6"/><line x1="1897.9" y1="1493.6" x2="1897.9" y2="1525.5" stroke="#000" stroke-width="5.6"/><line x1="2183.2" y1="1493.6" x2="2183.2" y2="1525.5" stroke="#000" stroke-width="5.6"/><text x="1182.00" y="148.40" font-family="'Liberation Sans', Arial, Helvetica, sans-serif" font-size="70.50" fill="#000" textLength="974.60" lengthAdjust="spacingAndGlyphs">CS-containing CUR-loaded NPs</text><text x="1337.00" y="418.40" font-family="'Liberation Sans', Arial, Helvetica, sans-serif" font-size="70.50" fill="#000" textLength="781.80" lengthAdjust="spacingAndGlyphs">CS-free CUR-loaded NPs</text><text x="1991.75" y="828.00" font-family="'Liberation Sans', Arial, Helvetica, sans-serif" font-size="70.00" fill="#000" textLength="150.50" lengthAdjust="spacingAndGlyphs">CUR</text><text x="2014.50" y="1130.70" font-family="'Liberation Sans', Arial, Helvetica, sans-serif" font-size="70.00" fill="#000" textLength="140.60" lengthAdjust="spacingAndGlyphs">PVP</text><text x="2035.60" y="1333.50" font-family="'Liberation Sans', Arial, Helvetica, sans-serif" font-size="70.00" fill="#000" textLength="99.80" lengthAdjust="spacingAndGlyphs">CS</text><text x="109.40" y="1609.80" font-family="'Liberation Sans', Arial, Helvetica, sans-serif" font-size="91.00" fill="#000" textLength="152.60" lengthAdjust="spacingAndGlyphs">500</text><text x="371.00" y="1609.80" font-family="'Liberation Sans', Arial, Helvetica, sans-serif" font-size="91.00" fill="#000" textLength="199.00" lengthAdjust="spacingAndGlyphs">1000</text><text x="658.40" y="1609.80" font-family="'Liberation Sans', Arial, Helvetica, sans-serif" font-size="91.00" fill="#000" textLength="199.40" lengthAdjust="spacingAndGlyphs">1500</text><text x="936.60" y="1609.80" font-family="'Liberation Sans', Arial, Helvetica, sans-serif" font-size="91.00" fill="#000" textLength="207.40" lengthAdjust="spacingAndGlyphs">2000</text><text x="1223.40" y="1609.80" font-family="'Liberation Sans', Arial, Helvetica, sans-serif" font-size="91.00" fill="#000" textLength="204.00" lengthAdjust="spacingAndGlyphs">2500</text><text x="1512.80" y="1609.80" font-family="'Liberation Sans', Arial, Helvetica, sans-serif" font-size="91.00" fill="#000" textLength="199.00" lengthAdjust="spacingAndGlyphs">3000</text><text x="1794.80" y="1609.80" font-family="'Liberation Sans', Arial, Helvetica, sans-serif" font-size="91.00" fill="#000" textLength="203.60" lengthAdjust="spacingAndGlyphs">3500</text><text x="2080.20" y="1609.80" font-family="'Liberation Sans', Arial, Helvetica, sans-serif" font-size="91.00" fill="#000" textLength="201.20" lengthAdjust="spacingAndGlyphs">4000</text><text x="737.20" y="1731.50" font-family="'Liberation Sans', Arial, Helvetica, sans-serif" font-size="99.50" fill="#000" textLength="810.60" lengthAdjust="spacingAndGlyphs">Wavenumbers (cm</text><text x="1545.00" y="1684.00" font-family="'Liberation Sans', Arial, Helvetica, sans-serif" font-size="57.50" fill="#000" textLength="47.00" lengthAdjust="spacingAndGlyphs">-1</text><text x="1603.50" y="1731.50" font-family="'Liberation Sans', Arial, Helvetica, sans-serif" font-size="99.50" fill="#000" textLength="29.00" lengthAdjust="spacingAndGlyphs">)</text><text x="100.50" y="1101.20" font-family="'Liberation Sans', Arial, Helvetica, sans-serif" font-size="98.00" fill="#000" textLength="694.80" lengthAdjust="spacingAndGlyphs" transform="rotate(-90 100.50 1101.20)">Absorbance (%)</text><text x="397.60" y="113.30" font-family="'Liberation Serif', 'Times New Roman', Times, serif" font-size="58.00" fill="#000" textLength="113.00" lengthAdjust="spacingAndGlyphs" stroke="#000" stroke-width="0.7">1028</text><text x="529.40" y="113.30" font-family="'Liberation Serif', 'Times New Roman', Times, serif" font-size="58.00" fill="#000" textLength="73.20" lengthAdjust="spacingAndGlyphs" stroke="#000" stroke-width="0.7">cm</text><text x="600.20" y="94.30" font-family="'Liberation Serif', 'Times New Roman', Times, serif" font-size="42.00" fill="#000" textLength="26.60" lengthAdjust="spacingAndGlyphs" stroke="#000" stroke-width="0.7">−</text><text x="625.85" y="94.30" font-family="'Liberation Serif', 'Times New Roman', Times, serif" font-size="42.00" fill="#000" textLength="15.90" lengthAdjust="spacingAndGlyphs" stroke="#000" stroke-width="0.7">1</text><text x="680.60" y="88.30" font-family="'Liberation Serif', 'Times New Roman', Times, serif" font-size="58.00" fill="#000" textLength="113.00" lengthAdjust="spacingAndGlyphs" stroke="#000" stroke-width="0.7">1508</text><text x="812.40" y="88.30" font-family="'Liberation Serif', 'Times New Roman', Times, serif" font-size="58.00" fill="#000" textLength="73.20" lengthAdjust="spacingAndGlyphs" stroke="#000" stroke-width="0.7">cm</text><text x="882.60" y="69.30" font-family="'Liberation Serif', 'Times New Roman', Times, serif" font-size="42.00" fill="#000" textLength="27.60" lengthAdjust="spacingAndGlyphs" stroke="#000" stroke-width="0.7">−</text><text x="909.45" y="69.30" font-family="'Liberation Serif', 'Times New Roman', Times, serif" font-size="42.00" fill="#000" textLength="15.90" lengthAdjust="spacingAndGlyphs" stroke="#000" stroke-width="0.7">1</text><rect x="0" y="1746.5" width="2291" height="24.5" fill="#fff"/></svg>
</body></html>
